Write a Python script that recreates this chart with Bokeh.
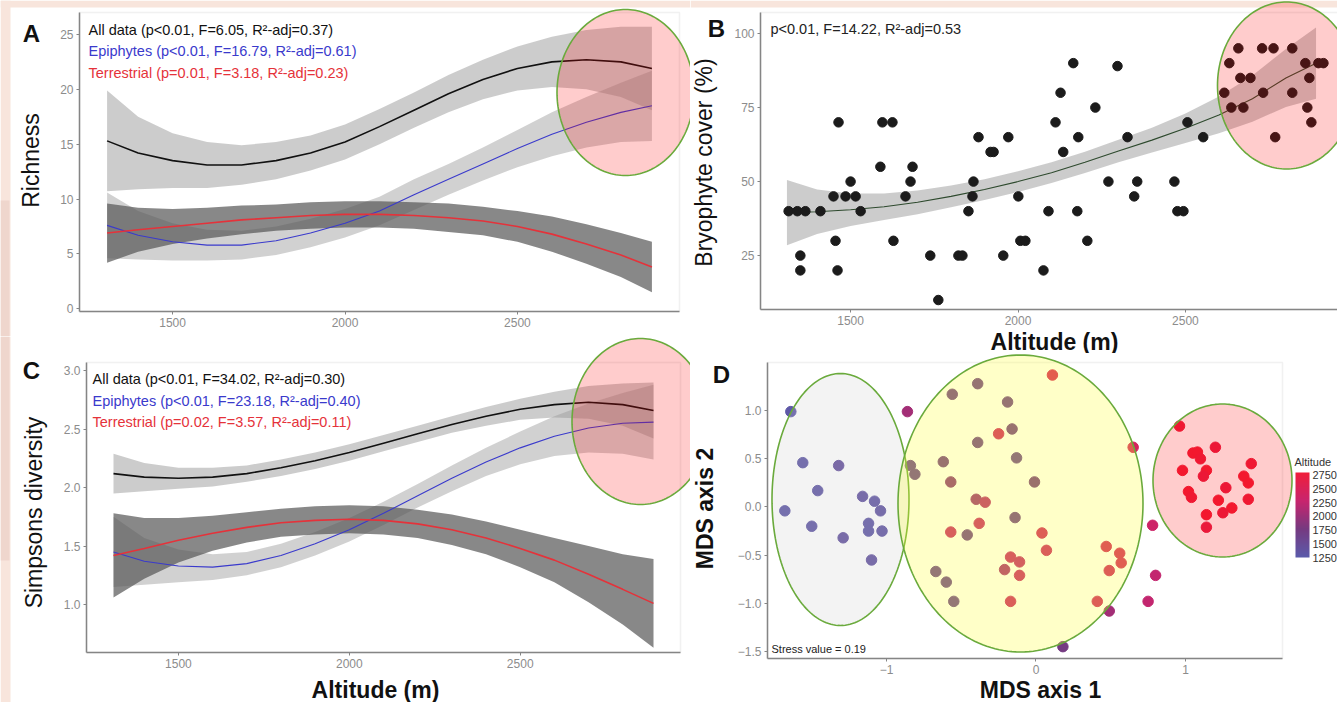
import numpy as np
from bokeh.plotting import figure
from bokeh.layouts import row, column
from bokeh.models import (Label, PolyAnnotation, BoxAnnotation, ColorBar, LinearColorMapper,
                          FixedTicker, Range1d, ColumnDataSource)
from bokeh.embed import file_html
from bokeh.resources import INLINE

FONT = "Liberation Sans"

# ---------------- data ----------------
alt_fit = [1310, 1400, 1500, 1600, 1700, 1800, 1900, 2000, 2100, 2200, 2300, 2400, 2500, 2600, 2700, 2800, 2890]

# Panel A: richness (fitted curves and half-widths of their confidence bands)
rich_all = [15.3, 14.2, 13.5, 13.1, 13.1, 13.5, 14.2, 15.2, 16.6, 18.1, 19.6, 20.9, 21.9, 22.5, 22.7, 22.5, 21.9]
rich_all_hw = [4.6, 3.3, 2.5, 2.1, 1.8, 1.7, 1.6, 1.6, 1.6, 1.6, 1.7, 1.8, 2.0, 2.3, 2.7, 3.2, 3.8]
rich_epi = [7.6, 6.7, 6.1, 5.8, 5.8, 6.2, 6.9, 7.8, 8.9, 10.4, 11.8, 13.2, 14.6, 15.9, 17.0, 17.9, 18.5]
rich_epi_hw = [3.0, 2.2, 1.7, 1.4, 1.3, 1.3, 1.3, 1.3, 1.3, 1.4, 1.4, 1.5, 1.7, 2.0, 2.3, 2.7, 3.2]
rich_ter = [6.9, 7.2, 7.5, 7.8, 8.1, 8.3, 8.5, 8.6, 8.6, 8.5, 8.3, 8.0, 7.5, 6.8, 5.9, 4.9, 3.8]
rich_ter_hw = [2.7, 2.0, 1.6, 1.4, 1.3, 1.2, 1.2, 1.2, 1.2, 1.2, 1.3, 1.3, 1.4, 1.6, 1.8, 2.0, 2.3]

# Panel B: bryophyte cover
cov_alt = [1315, 1341, 1350, 1350, 1365, 1410, 1449, 1464, 1455, 1461, 1485, 1500, 1515, 1530,
           1589, 1595, 1625, 1628, 1664, 1679, 1685, 1738, 1762, 1822, 1834, 1852, 1864, 1867,
           1882, 1918, 1927, 1956, 1971, 2001, 2007, 2022, 2076, 2091, 2112, 2127, 2135, 2165,
           2177, 2180, 2207, 2231, 2270, 2297, 2327, 2347, 2356, 2467, 2476, 2494, 2506, 2553,
           2616, 2631, 2637, 2658, 2664, 2673, 2694, 2729, 2732, 2763, 2768, 2819, 2819, 2858,
           2864, 2870, 2876, 2897, 2912]
cov_val = [40, 40, 25, 20, 40, 40, 45, 70, 30, 20, 45, 50, 45, 40,
           55, 70, 70, 30, 45, 50, 55, 25, 10, 25, 25, 40, 45, 50,
           65, 60, 60, 25, 65, 45, 30, 30, 20, 40, 70, 80, 60, 90,
           40, 65, 30, 75, 50, 89, 65, 45, 50, 50, 40, 40, 70, 65,
           80, 90, 75, 95, 85, 75, 85, 95, 80, 95, 65, 95, 80, 90,
           75, 85, 70, 90, 90]
cov_fit = [39.5, 39.8, 40.5, 41.5, 43.0, 45.0, 47.3, 50.0, 53.0, 56.5, 60.3, 64.0, 68.0, 72.5, 78.0, 85.0, 90.0]
cov_fit_hw = [11, 7.5, 5.5, 4.5, 4.0, 3.7, 3.5, 3.5, 3.5, 3.6, 3.8, 4.2, 5.0, 6.2, 7.8, 9.8, 12]

# Panel C: Simpson diversity
div_all = [2.12, 2.09, 2.08, 2.09, 2.12, 2.17, 2.23, 2.30, 2.38, 2.46, 2.54, 2.61, 2.67, 2.71, 2.73, 2.71, 2.66]
div_all_hw = [0.17, 0.12, 0.09, 0.08, 0.07, 0.07, 0.07, 0.07, 0.07, 0.07, 0.07, 0.08, 0.09, 0.11, 0.14, 0.18, 0.24]
div_epi = [1.45, 1.37, 1.33, 1.32, 1.35, 1.42, 1.52, 1.64, 1.78, 1.93, 2.08, 2.22, 2.34, 2.44, 2.51, 2.55, 2.56]
div_epi_hw = [0.30, 0.20, 0.14, 0.11, 0.10, 0.10, 0.10, 0.10, 0.10, 0.10, 0.11, 0.12, 0.14, 0.17, 0.21, 0.26, 0.32]
div_ter = [1.42, 1.48, 1.55, 1.61, 1.66, 1.70, 1.72, 1.73, 1.72, 1.69, 1.64, 1.57, 1.48, 1.38, 1.26, 1.13, 1.01]
div_ter_hw = [0.36, 0.26, 0.19, 0.15, 0.13, 0.12, 0.12, 0.12, 0.12, 0.12, 0.13, 0.14, 0.16, 0.19, 0.24, 0.30, 0.38]

# Panel D: NMDS ordination
mds1 = [-1.64, -1.56, -1.32, -1.46, -1.68, -1.16, -1.08, -1.04, -1.50, -1.12, -1.12, -1.03, -1.29, -1.10,
        -0.86, 0.65, 0.78, 0.80, 0.75, 0.49, 0.18,
        0.11, -0.39, -0.56, -0.19, -0.25, -0.16, -0.39, -0.62, -0.13, -0.84, -0.81, -0.57, -0.01, -0.40,
        -0.34, -0.14, -0.38, -0.57, -0.46, 0.04, -0.67, -0.60, -0.55, -0.21, -0.17, -0.11, -0.11, 0.07,
        -0.17, 0.41, 0.47, 0.56, 0.57, 0.49,
        0.96, 1.20, 1.05, 1.08, 1.10, 0.98, 1.14, 1.12, 1.44, 1.39, 1.42, 1.27, 1.02, 1.04, 1.22, 1.42,
        1.31, 1.25, 1.14, 1.14]
mds2 = [0.99, 0.46, 0.43, 0.17, -0.04, 0.11, 0.06, -0.04, -0.20, -0.17, -0.25, -0.25, -0.32, -0.55,
        0.99, 0.62, -0.19, -0.71, -0.98, -1.08, -1.45,
        1.37, 1.28, 1.17, 1.09, 0.76, 0.81, 0.67, 0.47, 0.51, 0.43, 0.34, 0.26, 0.26, 0.08,
        0.05, -0.11, -0.17, -0.26, -0.29, -0.27, -0.67, -0.78, -0.98, -0.65, -0.52, -0.57, -0.71, -0.45,
        -0.98, -0.98, -0.41, -0.48, -0.58, -0.66,
        0.84, 0.62, 0.56, 0.57, 0.50, 0.38, 0.38, 0.32, 0.45, 0.32, 0.25, 0.20, 0.16, 0.10, 0.07, 0.08,
        -0.01, -0.06, -0.08, -0.21]
mds_alt = [1300, 1320, 1420, 1340, 1310, 1380, 1350, 1360, 1330, 1340, 1320, 1350, 1400, 1390,
           2050, 2450, 2350, 2250, 2250, 2050, 1750,
           2500, 1650, 1650, 1650, 2400, 1700, 1650, 1700, 1600, 1600, 1600, 1900, 1750, 2000,
           2200, 1650, 2300, 2300, 1650, 2400, 1600, 1600, 1600, 2100, 2300, 2250, 2300, 2350,
           2350, 2400, 2450, 2450, 2450, 2400,
           2750, 2700, 2850, 2800, 2750, 2800, 2850, 2700, 2750, 2800, 2850, 2700, 2800, 2750, 2850, 2750,
           2800, 2700, 2850, 2650]

alt_ticks = [1500, 2000, 2500]
rich_ticks = [0, 5, 10, 15, 20, 25]
cov_ticks = [25, 50, 75, 100]
div_ticks = [1.0, 1.5, 2.0, 2.5, 3.0]
mds1_ticks = [-1, 0, 1]
mds2_ticks = [-1.5, -1.0, -0.5, 0.0, 0.5, 1.0]
legend_ticks = [1250, 1500, 1750, 2000, 2250, 2500, 2750]

stats_A = ["All data (p<0.01, F=6.05, R\u00b2-adj=0.37)",
           "Epiphytes (p<0.01, F=16.79, R\u00b2-adj=0.61)",
           "Terrestrial (p=0.01, F=3.18, R\u00b2-adj=0.23)"]
stats_B = "p<0.01, F=14.22, R\u00b2-adj=0.53"
stats_C = ["All data (p<0.01, F=34.02, R\u00b2-adj=0.30)",
           "Epiphytes (p<0.01, F=23.18, R\u00b2-adj=0.40)",
           "Terrestrial (p=0.02, F=3.57, R\u00b2-adj=0.11)"]
stress_txt = "Stress value = 0.19"

# ---------------- styling ----------------
BLUE = "#3a3acc"
RED = "#e5323a"
BLACK = "#111111"
LIGHT = "#9a9a9a"
DARK = "#555555"
GREEN = "#6aaa3c"
PEACH = "#f8e5dc"
PEACH2 = "#efd6cd"
TITLE_PX = "23px"
STAT_PX = "14.5px"


class Panel:
    """Figure whose frame fills the whole figure; the visible box is a sub-rectangle."""

    def __init__(self, fig_rect, box_px, box_data):
        fx, fy, fw, fh = fig_rect
        bx0, by0, bx1, by1 = box_px
        x0, x1, y0, y1 = box_data
        self.sx = (x1 - x0) / (bx1 - bx0)
        self.sy = (y1 - y0) / (by1 - by0)
        self.bx0, self.by1, self.x0, self.y0 = bx0, by1, x0, y0
        xr = (self.X(fx), self.X(fx + fw))
        yr = (self.Y(fy + fh), self.Y(fy))
        p = figure(width=fw, height=fh, x_range=Range1d(*xr), y_range=Range1d(*yr),
                   output_backend="svg", toolbar_location=None, title=None,
                   min_border=0, min_border_left=0, min_border_right=0,
                   min_border_top=0, min_border_bottom=0)
        p.grid.visible = False
        p.outline_line_color = None
        p.background_fill_color = "white"
        p.border_fill_color = "white"
        p.add_layout(BoxAnnotation(left=x0, right=x1, bottom=y0, top=y1, fill_color=None,
                                   line_color="#cfcfcf", line_width=1.5, level="underlay"))
        for ax in (p.xaxis, p.yaxis):
            ax.axis_line_color = "#858585"
            ax.axis_line_width = 1.5
            ax.major_tick_line_color = "#858585"
            ax.major_tick_out = 3
            ax.major_tick_in = 0
            ax.minor_tick_line_color = None
            ax.major_label_text_font = FONT
            ax.major_label_text_font_size = "12px"
            ax.major_label_text_color = "#8c8c8c"
            ax.major_label_standoff = 3
        p.xaxis.fixed_location = y0
        p.yaxis.fixed_location = x0
        p.xaxis.bounds = (x0, x1)
        p.yaxis.bounds = (y0, y1)
        self.p = p

    def X(self, px):
        return self.x0 + (px - self.bx0) * self.sx

    def Y(self, py):
        return self.y0 + (self.by1 - py) * self.sy

    def strip(self, px0, py0, px1, py1, color):
        self.p.add_layout(BoxAnnotation(left=self.X(px0), right=self.X(px1),
                                        top=self.Y(py0), bottom=self.Y(py1),
                                        fill_color=color, fill_alpha=1.0, line_color=None,
                                        level="underlay"))

    def text(self, px, py, t, size, color=BLACK, style="normal", align="left", angle=0.0):
        self.p.add_layout(Label(x=self.X(px), y=self.Y(py), text=t, text_font=FONT,
                                text_font_size=size, text_font_style=style, text_color=color,
                                text_align=align, text_baseline="middle", angle=angle))

    def ellipse(self, cx, cy, w, h, color, alpha):
        t = np.linspace(0, 2 * np.pi, 180, endpoint=False)
        xs = self.X(cx) + w * abs(self.sx) / 2 * np.cos(t)
        ys = self.Y(cy) + h * abs(self.sy) / 2 * np.sin(t)
        self.p.add_layout(PolyAnnotation(xs=list(xs), ys=list(ys), fill_color=color,
                                         fill_alpha=alpha, line_color=GREEN, line_alpha=1.0,
                                         line_width=1.6))


alt_x = np.array(alt_fit)


def bands(p, series):
    for yv, hw, col, a in series:
        yv = np.array(yv); hw = np.array(hw)
        p.varea(x=alt_x, y1=yv - hw, y2=yv + hw, fill_color=col, fill_alpha=a)


# ---------------- Panel A ----------------
A = Panel((0, 0, 690, 336), (79, 12, 679, 311), (1230, 2970, -0.25, 27.0))
pA = A.p
A.strip(0, 0, 690, 7, PEACH)
A.strip(0, 0, 10, 336, PEACH)
A.strip(0, 200, 9, 336, PEACH2)
bands(pA, [(rich_all, rich_all_hw, LIGHT, 0.5), (rich_epi, rich_epi_hw, LIGHT, 0.45),
           (rich_ter, rich_ter_hw, DARK, 0.7)])
pA.line(alt_x, rich_all, line_color=BLACK, line_width=1.6)
pA.line(alt_x, rich_epi, line_color=BLUE, line_width=1.1)
pA.line(alt_x, rich_ter, line_color=RED, line_width=1.6)
pA.xaxis.ticker = FixedTicker(ticks=alt_ticks)
pA.yaxis.ticker = FixedTicker(ticks=rich_ticks)
for t, c, py in zip(stats_A, [BLACK, BLUE, RED], [29, 50, 72]):
    A.text(88, py, t, STAT_PX, c)
A.text(31, 33, "A", "24px", style="bold", align="center")
A.text(30, 160, "Richness", TITLE_PX, align="center", angle=np.pi / 2)
A.ellipse(625, 92, 137, 166, "#ff0000", 0.2)

# ---------------- Panel B ----------------
B = Panel((690, 0, 647, 353), (760, 12, 1342, 309), (1231, 2969, 6.8, 107.1))
pB = B.p
B.strip(690, 0, 1337, 7, PEACH)
cf = np.array(cov_fit); chw = np.array(cov_fit_hw)
pB.varea(x=alt_x, y1=cf - chw, y2=cf + chw, fill_color=LIGHT, fill_alpha=0.5)
pB.line(alt_x, cov_fit, line_color="#2e4a2e", line_width=1.1)
pB.scatter(cov_alt, cov_val, size=9.5, fill_color="#1b1b1b", line_color="#1b1b1b")
pB.xaxis.ticker = FixedTicker(ticks=alt_ticks)
pB.yaxis.ticker = FixedTicker(ticks=cov_ticks)
B.text(770, 28, stats_B, STAT_PX, "#222222")
B.text(716, 28, "B", "24px", style="bold", align="center")
B.text(703, 162, "Bryophyte cover (%)", TITLE_PX, align="center", angle=np.pi / 2)
B.text(1054, 341, "Altitude (m)", TITLE_PX, style="bold", align="center")
B.ellipse(1286, 85, 138, 167, "#ff0000", 0.2)

# ---------------- Panel C ----------------
C = Panel((0, 336, 690, 366), (86, 362, 680, 652), (1231, 2969, 0.59, 3.07))
pC = C.p
C.strip(0, 336, 10, 702, PEACH)
C.strip(0, 336, 9, 560, PEACH2)
bands(pC, [(div_all, div_all_hw, LIGHT, 0.5), (div_epi, div_epi_hw, LIGHT, 0.45),
           (div_ter, div_ter_hw, DARK, 0.7)])
pC.line(alt_x, div_all, line_color=BLACK, line_width=1.6)
pC.line(alt_x, div_epi, line_color=BLUE, line_width=1.1)
pC.line(alt_x, div_ter, line_color=RED, line_width=1.6)
pC.xaxis.ticker = FixedTicker(ticks=alt_ticks)
pC.yaxis.ticker = FixedTicker(ticks=div_ticks)
pC.yaxis.major_label_overrides = {v: f"{v:.1f}" for v in div_ticks}
for t, c, py in zip(stats_C, [BLACK, BLUE, RED], [378, 400, 421]):
    C.text(92, py, t, STAT_PX, c)
C.text(31, 370, "C", "24px", style="bold", align="center")
C.text(33, 512, "Simpsons diversity", TITLE_PX, align="center", angle=np.pi / 2)
C.text(375, 689, "Altitude (m)", TITLE_PX, style="bold", align="center")
C.ellipse(640, 421, 137, 166, "#ff0000", 0.2)

# ---------------- Panel D ----------------
def lerp_palette(stops, n=256):
    rgb = [tuple(int(s[i:i + 2], 16) for i in (1, 3, 5)) for s in stops]
    out = []
    for k in range(n):
        t = k / (n - 1) * (len(rgb) - 1)
        i = min(int(t), len(rgb) - 2)
        f = t - i
        c = [round(rgb[i][j] + (rgb[i + 1][j] - rgb[i][j]) * f) for j in range(3)]
        out.append("#%02x%02x%02x" % tuple(c))
    return out


pal = lerp_palette(["#5b5bab", "#763a80", "#c8256e", "#f01e3a"])
mapper = LinearColorMapper(palette=pal, low=1250, high=2800)

D = Panel((690, 353, 647, 349), (767, 362, 1282, 658), (-1.796, 1.649, -1.573, 1.50))
pD = D.p
src = ColumnDataSource(dict(x=mds1, y=mds2, alt=mds_alt))
pD.scatter("x", "y", source=src, size=10.5,
           fill_color={"field": "alt", "transform": mapper},
           line_color={"field": "alt", "transform": mapper})
pD.xaxis.ticker = FixedTicker(ticks=mds1_ticks)
pD.xaxis.major_label_overrides = {-1: "\u22121", 0: "0", 1: "1"}
pD.yaxis.ticker = FixedTicker(ticks=mds2_ticks)
pD.yaxis.major_label_overrides = {v: f"{v:.1f}".replace("-", "\u2212") for v in mds2_ticks}
D.text(771, 648, stress_txt, "11px", "#222222")
D.text(721, 374, "D", "24px", style="bold", align="center")
D.text(704, 508, "MDS axis 2", TITLE_PX, style="bold", align="center", angle=np.pi / 2)
D.text(1040, 689, "MDS axis 1", TITLE_PX, style="bold", align="center")
D.ellipse(840, 499, 137, 252, "#c8c8c8", 0.22)
D.ellipse(1020, 503, 245, 297, "#ffff33", 0.27)
D.ellipse(1222, 480, 139, 153, "#ff0000", 0.2)

D.text(1294, 461, "Altitude", "11px", "#333333")
cb = ColorBar(color_mapper=mapper, ticker=FixedTicker(ticks=legend_ticks), width=14, height=85,
              title=None, major_label_text_font=FONT, major_label_text_font_size="11px",
              major_label_text_color="#333333", label_standoff=3, padding=2, margin=0,
              major_tick_line_color=None, bar_line_color=None, location=(603, 143),
              background_fill_color=None, border_line_color=None)
pD.add_layout(cb)

layout = row(column(pA, pC), column(pB, pD))
open("out.html", "w").write(file_html(layout, INLINE))
